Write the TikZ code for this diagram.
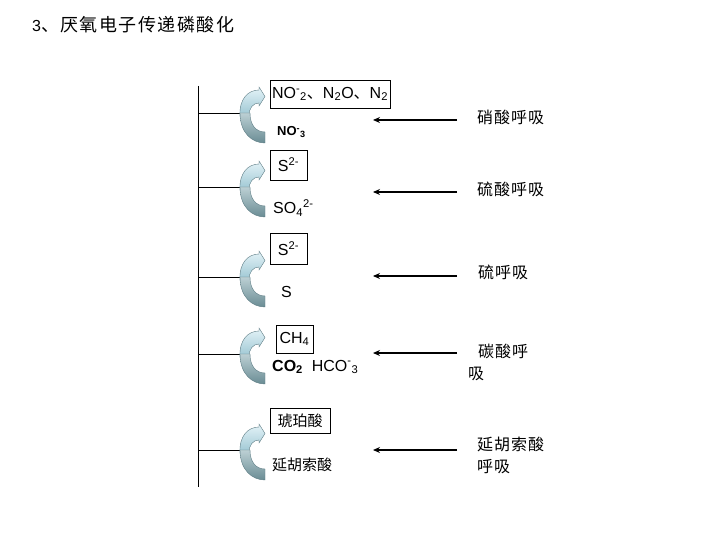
\documentclass[tikz,border=0pt]{standalone}
\usepackage{fontspec}
\setmainfont{Liberation Sans}
\newfontfamily\cjk{Noto Sans CJK SC}
\newfontfamily\cjkt{Noto Sans CJK SC}[LetterSpace=8]
\newfontfamily\cjkr{Noto Sans CJK SC}[LetterSpace=6]
\usetikzlibrary{arrows.meta}
\definecolor{lightA}{HTML}{E4F3F8}
\definecolor{lightB}{HTML}{9CC6D2}
\definecolor{darkA}{HTML}{BCD0D4}
\definecolor{darkB}{HTML}{6A8C94}
\definecolor{edge}{HTML}{5E7C84}
\tikzset{
  box/.style={draw, line width=0.6pt, inner sep=0pt, font=\fontsize{16}{16}\selectfont},
  plain/.style={anchor=west, inner sep=0pt, font=\fontsize{16}{16}\selectfont},
  cjkleft/.style={inner sep=0pt, font=\cjk\fontsize{15}{15}\selectfont},
  rlabel/.style={anchor=north west, inner sep=0pt, align=left, font=\cjkr\fontsize{16}{22}\selectfont},
  resp/.style={-{Stealth[length=7pt,width=6pt]}, line width=1.8pt},
  carrow/.pic={
    \path[draw=edge, line width=0.4pt, top color=lightA, bottom color=lightB]
      (0,3) .. controls (-1,-14) and (8,-23) .. (19,-23) -- (19,-26) -- (25,-16.5)
      -- (19,-7) -- (19,-10) .. controls (13,-10) and (9,-5) .. (9,3) -- cycle;
    \path[draw=edge, line width=0.4pt, top color=darkA, bottom color=darkB]
      (0,0) .. controls (0,20) and (12,30) .. (25,30) -- (25,19)
      .. controls (16,19) and (10,12) .. (10,0) -- cycle;
  }
}
\begin{document}
\begin{tikzpicture}[x=1pt,y=-1pt]
\useasboundingbox (0,0) rectangle (720,540);

% title
\node[anchor=west, inner sep=0pt] (title) at (32,25)
  {\fontsize{16}{16}\selectfont 3{\cjkt\fontsize{18}{18}\selectfont 、厌氧电子传递磷酸化}};

% main vertical line
\coordinate (vt) at (198,86);
\coordinate (vb) at (198,487);
\draw[line width=0.8pt] (vt) -- (vb);

% branches and curved arrows
\foreach \i/\y in {1/113,2/187,3/277,4/354,5/450}{
  \coordinate (v\i) at (198,\y);
  \coordinate (c\i) at (240,\y);
  \draw[line width=0.8pt] (v\i) -- (c\i);
  \pic at (c\i) {carrow};
}

% left side species
\node[box, minimum width=120, minimum height=28] (b1) at (330,94)
  {NO\textsuperscript{-}\textsubscript{2}{\cjk 、}N\textsubscript{2}O{\cjk 、}N\textsubscript{2}};
\node[plain, font=\bfseries\fontsize{13}{13}\selectfont] (no3) at (277,132)
  {NO\textsuperscript{-}\textsubscript{3}};

\node[box, minimum width=37, minimum height=30] (s1) at (288.5,165) {S\textsuperscript{2-}};
\node[plain] (so4) at (273,208) {SO\textsubscript{4}\textsuperscript{2-}};

\node[box, minimum width=37, minimum height=31] (s2) at (288.5,248.5) {S\textsuperscript{2-}};
\node[plain] (s) at (281,292) {S};

\node[box, minimum width=37, minimum height=28] (ch4) at (294.5,339) {CH\textsubscript{4}};
\node[plain] (co2) at (272,367) {\textbf{CO\textsubscript{2}}\ \ HCO\textsuperscript{-}\textsubscript{3}};

\node[box, cjkleft, minimum width=60, minimum height=25] (succ) at (300,420.5) {琥珀酸};
\node[cjkleft, anchor=west] (fum) at (272,465) {延胡索酸};

% respiration arrows
\foreach \i/\y in {1/120,2/192,3/276,4/353,5/450}{
  \coordinate (ra\i) at (457,\y);
  \coordinate (la\i) at (373,\y);
  \draw[resp] (ra\i) -- (la\i);
}

% right labels
\node[rlabel] (r1) at (477,110) {硝酸呼吸};
\node[rlabel] (r2) at (477,182) {硫酸呼吸};
\node[rlabel] (r3) at (478,265) {硫呼吸};
\node[rlabel] (r4) at (468,344) {\hspace*{10pt}碳酸呼\\吸};
\node[rlabel] (r5) at (477,437) {延胡索酸\\呼吸};
\end{tikzpicture}
\end{document}
